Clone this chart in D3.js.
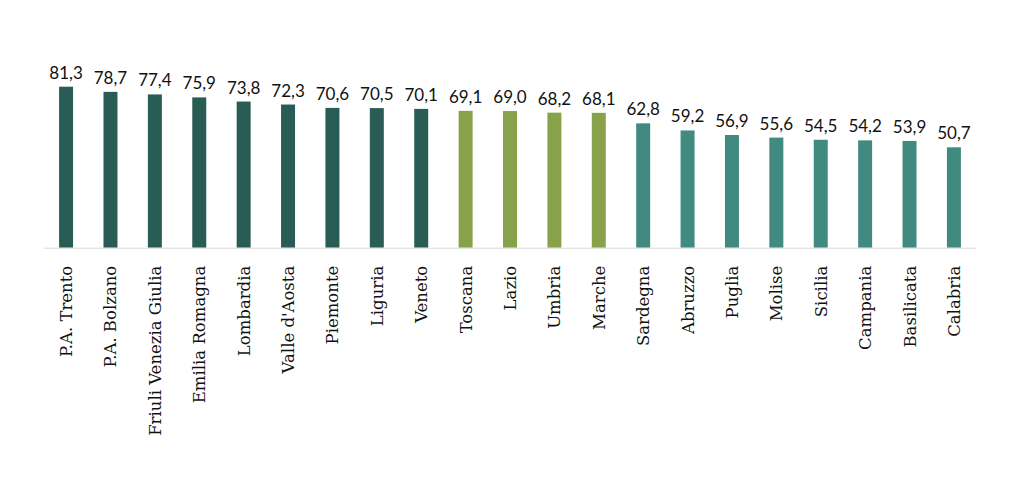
<!DOCTYPE html>
<html><head><meta charset="utf-8">
<script src="https://cdn.jsdelivr.net/npm/d3@7/dist/d3.min.js"></script>
<style>body{margin:0;background:#fff}svg{display:block}</style>
</head><body>
<svg id="c" width="1024" height="498"></svg>
<script>
const regions = ["P.A. Trento","P.A. Bolzano","Friuli Venezia Giulia","Emilia Romagna","Lombardia","Valle d'Aosta","Piemonte","Liguria","Veneto","Toscana","Lazio","Umbria","Marche","Sardegna","Abruzzo","Puglia","Molise","Sicilia","Campania","Basilicata","Calabria"];
const values = [81.3,78.7,77.4,75.9,73.8,72.3,70.6,70.5,70.1,69.1,69.0,68.2,68.1,62.8,59.2,56.9,55.6,54.5,54.2,53.9,50.7];
const groups = ["nord","nord","nord","nord","nord","nord","nord","nord","nord","centro","centro","centro","centro","sud","sud","sud","sud","sud","sud","sud","sud"];
const groupColors = {nord:"#2a5c56", centro:"#87a24a", sud:"#418a80"};

const svg = d3.select("#c");
const x = d3.scaleBand().domain(regions).range([44,976]).paddingInner(0.685).paddingOuter(0.34);
const y = d3.scaleLinear().domain([0,81.3]).range([247.7,86.7]);
const fmt = v => d3.format(".1f")(v).replace(".", ",");

svg.append("g").selectAll("rect").data(regions).join("rect")
  .attr("x", d => x(d)).attr("width", x.bandwidth())
  .attr("y", (d,i) => y(values[i])).attr("height", (d,i) => y(0) - y(values[i]))
  .attr("fill", (d,i) => groupColors[groups[i]]);

svg.append("line").attr("x1",44).attr("x2",976).attr("y1",y(0)+0.5).attr("y2",y(0)+0.5)
  .attr("stroke","#d9d9d9").attr("stroke-width",1);

svg.append("g").selectAll("text").data(regions).join("text")
  .attr("x", d => x(d) + x.bandwidth()/2)
  .attr("y", (d,i) => y(values[i]) - 8)
  .attr("text-anchor","middle")
  .style("font-family","Lato, sans-serif").style("font-size","17px").attr("fill","#111")
  .text((d,i) => fmt(values[i]));

svg.append("g").selectAll("text").data(regions).join("text")
  .attr("transform", d => `translate(${x(d) + x.bandwidth()/2 + 6},${y(0)+18}) rotate(-90)`)
  .attr("text-anchor","end")
  .style("font-family","'DejaVu Serif', serif").style("font-size","16.5px").attr("fill","#111")
  .text(d => d);
</script>
</body></html>
